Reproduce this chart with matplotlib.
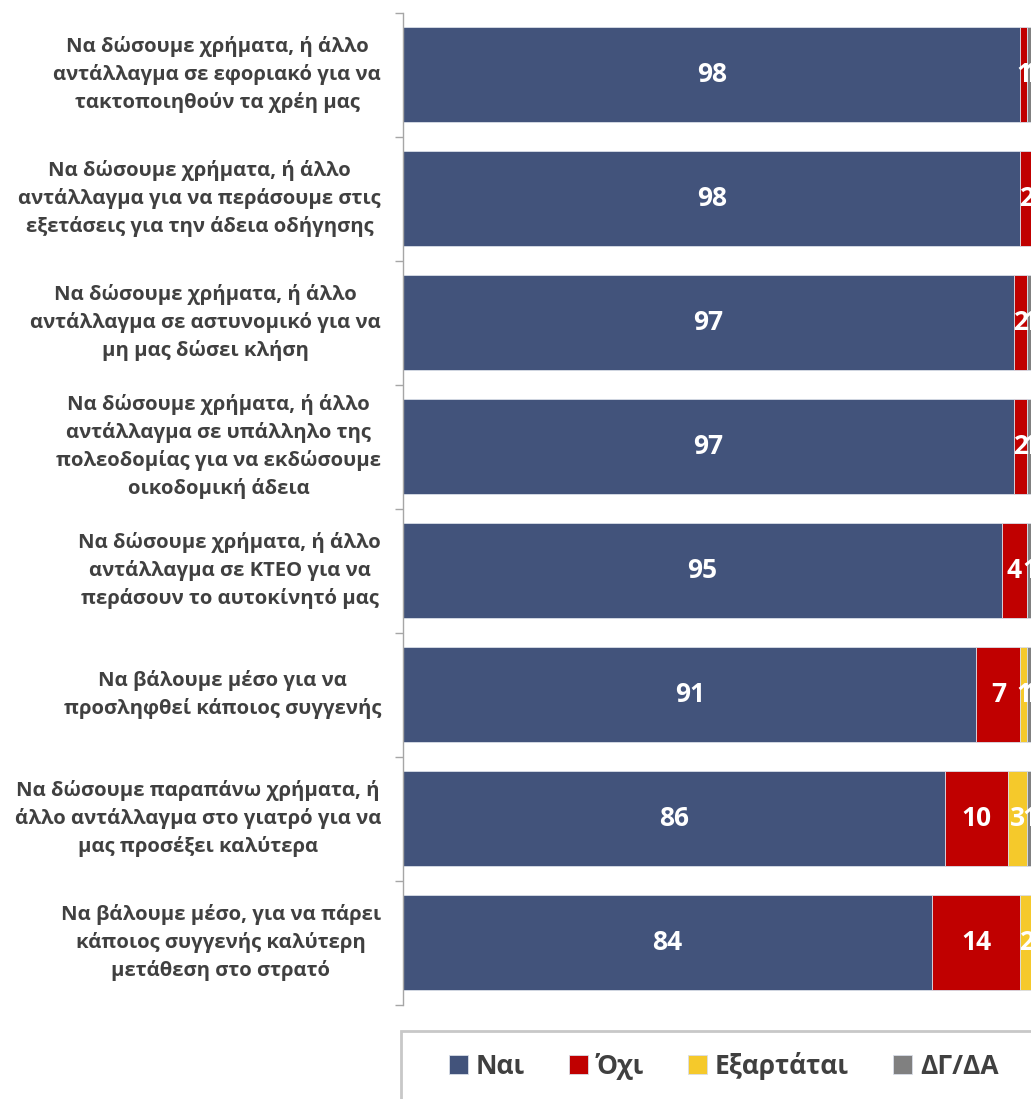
import matplotlib.pyplot as plt
from matplotlib.patches import Rectangle
import matplotlib.transforms as mtransforms

plt.rcParams['font.family'] = ['Open Sans', 'DejaVu Sans']

# ερωτήσεις (από πάνω προς τα κάτω)
questions = [
    "Να δώσουμε χρήματα, ή άλλο\nαντάλλαγμα σε εφοριακό για να\nτακτοποιηθούν τα χρέη μας",
    "Να δώσουμε χρήματα, ή άλλο\nαντάλλαγμα για να περάσουμε στις\nεξετάσεις για την άδεια οδήγησης",
    "Να δώσουμε χρήματα, ή άλλο\nαντάλλαγμα σε αστυνομικό για να\nμη μας δώσει κλήση",
    "Να δώσουμε χρήματα, ή άλλο\nαντάλλαγμα σε υπάλληλο της\nπολεοδομίας για να εκδώσουμε\nοικοδομική άδεια",
    "Να δώσουμε χρήματα, ή άλλο\nαντάλλαγμα σε ΚΤΕΟ για να\nπεράσουν το αυτοκίνητό μας",
    "Να βάλουμε μέσο για να\nπροσληφθεί κάποιος συγγενής",
    "Να δώσουμε παραπάνω χρήματα, ή\nάλλο αντάλλαγμα στο γιατρό για να\nμας προσέξει καλύτερα",
    "Να βάλουμε μέσο, για να πάρει\nκάποιος συγγενής καλύτερη\nμετάθεση στο στρατό",
]
nai = [98, 98, 97, 97, 95, 91, 86, 84]
oxi = [1, 2, 2, 2, 4, 7, 10, 14]
exartatai = [0, 0, 0, 0, 0, 1, 3, 2]
dg_da = [1, 0, 1, 1, 1, 1, 1, 1]

series_names = ["Ναι", "Όχι", "Εξαρτάται", "ΔΓ/ΔΑ"]
colors = ["#42537B", "#C00000", "#F5C92B", "#808080"]

W, H = 1031, 1099
fig = plt.figure(figsize=(W / 100, H / 100), dpi=100)
# άξονας: αριστερά στο x=403, το 100 πέφτει λίγο έξω από την εικόνα
ax = fig.add_axes([403 / W, 1 - 1004.5 / H, 630 / W, 992 / H])

ypos = list(range(len(questions)))
left = [0] * len(questions)
handles = []
for vals, name, col in zip([nai, oxi, exartatai, dg_da], series_names, colors):
    b = ax.barh(ypos, vals, left=left, height=0.76, color=col, label=name,
                edgecolor="#D9DEE8", linewidth=0.6)
    handles.append(b)
    for y, v, l in zip(ypos, vals, left):
        if v > 0:
            ax.text(l + v / 2, y, str(v), ha="center", va="center",
                    color="white", fontsize=19, fontweight="bold")
    left = [l + v for l, v in zip(left, vals)]

ax.set_xlim(0, 100)
ax.set_ylim(len(questions) - 0.5, -0.5)
ax.set_xticks([])
ax.set_yticks([y - 0.5 for y in range(len(questions) + 1)])
ax.set_yticklabels([])
ax.tick_params(axis="y", length=6, width=1, color="#A6A6A6", direction="out")
for s in ["top", "right", "bottom"]:
    ax.spines[s].set_visible(False)
ax.spines["left"].set_color("#A6A6A6")
ax.spines["left"].set_linewidth(1)

# ετικέτες κατηγοριών: μπλοκ στοιχισμένο δεξιά, γραμμές στο κέντρο
trans = mtransforms.blended_transform_factory(fig.transFigure, ax.transData)
for y, q in zip(ypos, questions):
    ax.text(381 / W, y, q, transform=trans, ha="right", va="center",
            multialignment="center", fontsize=14.6, fontweight="bold",
            color="#404040", linespacing=1.43, clip_on=False)

# πλαίσιο υπομνήματος
fig.patches.append(Rectangle((401 / W, -0.05), 0.7, (1 - 1031 / H) + 0.05,
                             transform=fig.transFigure, fill=False,
                             edgecolor="#C8C8C8", linewidth=2))
fig.legend(handles=handles, labels=series_names, loc="center left",
           bbox_to_anchor=(425 / W, 1 - 1066 / H), ncol=4, frameon=False,
           handlelength=0.72, handleheight=0.72, handletextpad=0.3,
           columnspacing=1.67, prop={"size": 19, "weight": "bold"},
           labelcolor="#404040")

fig.savefig("out.png", dpi=100)
